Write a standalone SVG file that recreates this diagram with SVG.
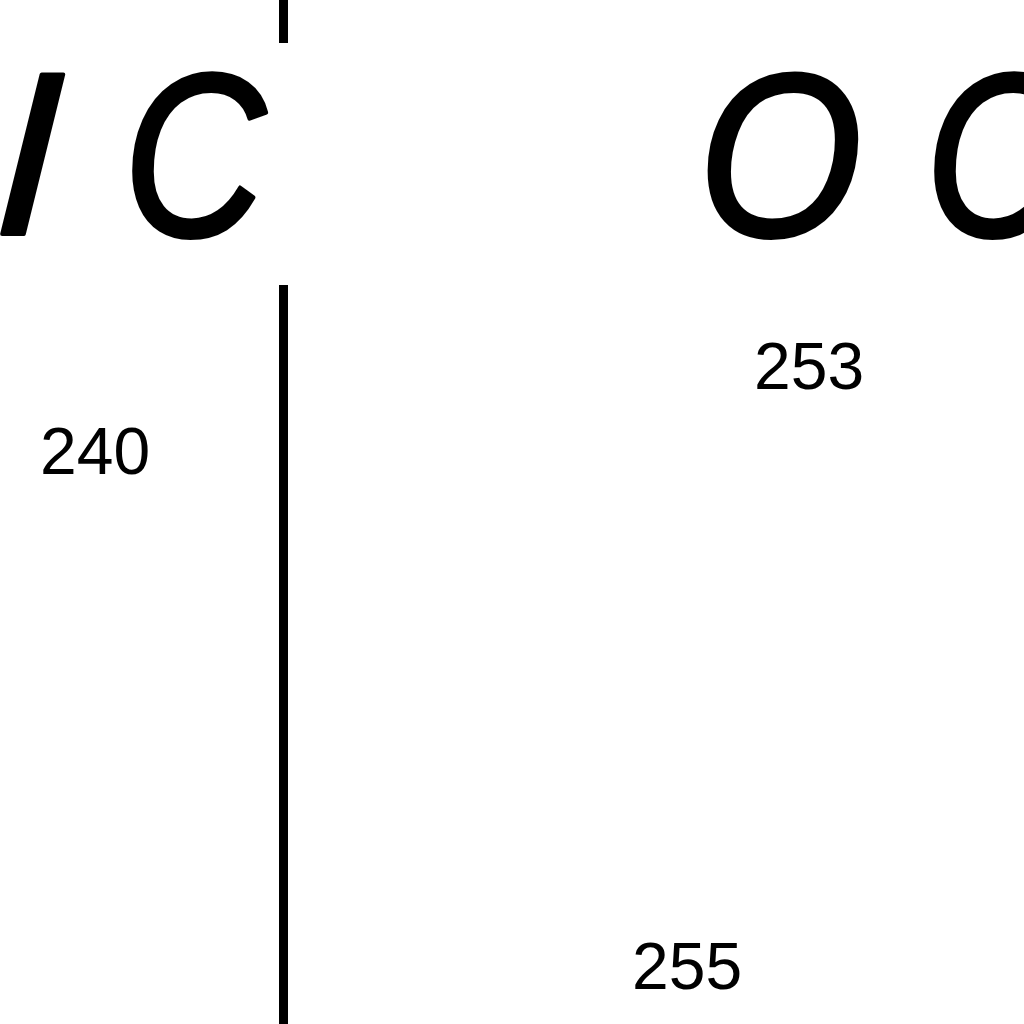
<svg xmlns="http://www.w3.org/2000/svg" width="1024" height="1024" viewBox="0 0 1024 1024">
<style>
.big{font-family:"Liberation Sans",Arial,sans-serif;font-style:italic;font-size:232px;fill:#000;stroke:#000;stroke-width:4;stroke-linejoin:round}
.num{font-family:"Liberation Sans",Arial,sans-serif;font-size:66px;fill:#000}
</style>
<rect width="1024" height="1024" fill="#fff"/>
<g id="divider">
<line x1="283.5" y1="0" x2="283.5" y2="43" stroke="#000" stroke-width="9"/>
<line x1="283.5" y1="285" x2="283.5" y2="1024" stroke="#000" stroke-width="9"/>
</g>
<g id="label-IC">
<text class="big" transform="translate(-7,234) skewX(-3)">I</text>
<text class="big" transform="translate(123,236) scale(0.85,1)">C</text>
</g>
<g id="label-OC">
<text class="big" transform="translate(698,236) scale(0.91,1)">O</text>
<text class="big" transform="translate(925,236) scale(0.85,1)">C</text>
</g>
<g id="n240"><text class="num" x="40" y="474">240</text></g>
<g id="n253"><text class="num" x="754" y="389">253</text></g>
<g id="n255"><text class="num" x="632" y="989">255</text></g>
</svg>
